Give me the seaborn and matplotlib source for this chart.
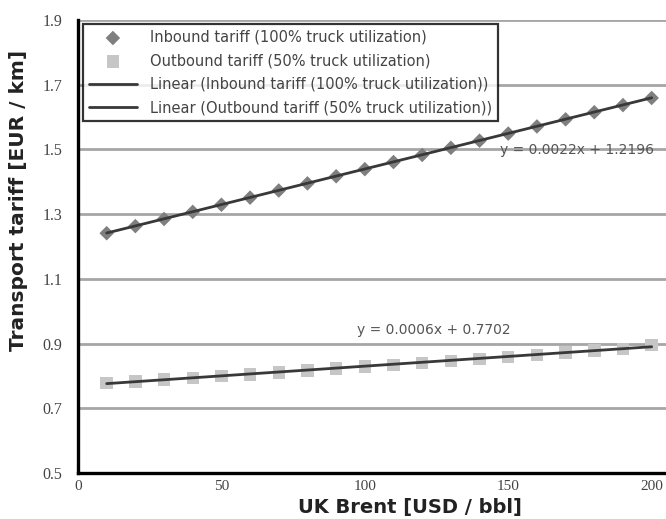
import numpy as np
import pandas as pd
import matplotlib
matplotlib.use("Agg")
import matplotlib.pyplot as plt
import seaborn as sns

# Oil price (USD/bbl) and tariffs (EUR/km)
brent = [10, 20, 30, 40, 50, 60, 70, 80, 90, 100,
         110, 120, 130, 140, 150, 160, 170, 180, 190, 200]
inbound = [1.241, 1.263, 1.285, 1.307, 1.329, 1.351, 1.373, 1.395, 1.417, 1.439,
           1.461, 1.483, 1.505, 1.527, 1.549, 1.571, 1.593, 1.615, 1.637, 1.659]
outbound = [0.778, 0.783, 0.789, 0.794, 0.800, 0.805, 0.811, 0.817, 0.823, 0.829,
            0.834, 0.840, 0.846, 0.852, 0.858, 0.864, 0.872, 0.878, 0.884, 0.896]

# Linear trend coefficients (slope, intercept)
inbound_fit = [0.0022, 1.2196]
outbound_fit = [0.0006, 0.7702]

labels = ["Inbound tariff (100% truck utilization)",
          "Outbound tariff (50% truck utilization)",
          "Linear (Inbound tariff (100% truck utilization))",
          "Linear (Outbound tariff (50% truck utilization))"]

yticks = [0.5, 0.7, 0.9, 1.1, 1.3, 1.5, 1.7, 1.9]
xticks = [0, 50, 100, 150, 200]

W, H = 666, 519
sns.set_style("white")
fig = plt.figure(figsize=(W / 100, H / 100), dpi=100)
ax = fig.add_axes([78 / W, 1 - 473 / H, (W - 78) / W, (473 - 20) / H])

df = pd.DataFrame({"x": brent, "inb": inbound, "outb": outbound})
x_arr = np.array(brent, dtype=float)
trend = pd.DataFrame({
    "x": x_arr,
    "inb": inbound_fit[0] * x_arr + inbound_fit[1],
    "outb": outbound_fit[0] * x_arr + outbound_fit[1],
})

# grid lines
for yv in yticks[1:]:
    ax.axhline(yv, color="#a6a6a6", lw=2.0, zorder=0)

sns.scatterplot(data=df, x="x", y="inb", marker="D", s=55, color="#7f7f7f",
                edgecolor="none", ax=ax, zorder=3, label=labels[0])
sns.scatterplot(data=df, x="x", y="outb", marker="s", s=80, color="#c6c6c6",
                edgecolor="none", ax=ax, zorder=3, label=labels[1])
sns.lineplot(data=trend, x="x", y="inb", color="#383838", lw=2.0, ax=ax,
             zorder=4, label=labels[2])
sns.lineplot(data=trend, x="x", y="outb", color="#383838", lw=2.0, ax=ax,
             zorder=4, label=labels[3])

ax.text(174, 1.497, "y = 0.0022x + 1.2196", ha="center", va="center",
        fontsize=10, color="#555555", family="DejaVu Sans")
ax.text(124, 0.942, "y = 0.0006x + 0.7702", ha="center", va="center",
        fontsize=10, color="#555555", family="DejaVu Sans")

ax.set_xlim(0, 205)
ax.set_ylim(0.5, 1.9)
ax.set_xticks(xticks)
ax.set_yticks(yticks)
ax.set_xticklabels([str(v) for v in xticks], family="Liberation Serif",
                   fontsize=11, color="#444444")
ax.set_yticklabels([f"{v:.1f}" for v in yticks], family="Liberation Serif",
                   fontsize=11.5, color="#444444")
ax.tick_params(axis="x", length=0, pad=5)
ax.tick_params(axis="y", length=0, pad=11)

for side in ["top", "right"]:
    ax.spines[side].set_visible(False)
ax.spines["left"].set_linewidth(2.4)
ax.spines["bottom"].set_linewidth(2.4)
ax.spines["left"].set_color("black")
ax.spines["bottom"].set_color("black")

ax.set_xlabel("")
ax.set_ylabel("")
fig.text(410 / W, 1 - 508 / H, "UK Brent [USD / bbl]", family="DejaVu Sans",
         fontweight="bold", fontsize=14, color="#222222",
         ha="center", va="center")
fig.text(19 / W, 1 - 200 / H, "Transport tariff [EUR / km]",
         family="DejaVu Sans", fontweight="bold", fontsize=14.5,
         color="#222222", ha="center", va="center", rotation=90)

leg = ax.legend(loc="upper left", bbox_to_anchor=(5 / 588, 1 - 4 / 453),
                borderaxespad=0, frameon=True, fancybox=False, borderpad=0.4,
                labelspacing=0.58, handlelength=3.3, handletextpad=0.9,
                prop={"family": "DejaVu Sans", "size": 10.5})
leg.get_frame().set_edgecolor("black")
leg.get_frame().set_linewidth(1.6)
for t in leg.get_texts():
    t.set_color("#444444")

fig.savefig("out.png", dpi=100)
